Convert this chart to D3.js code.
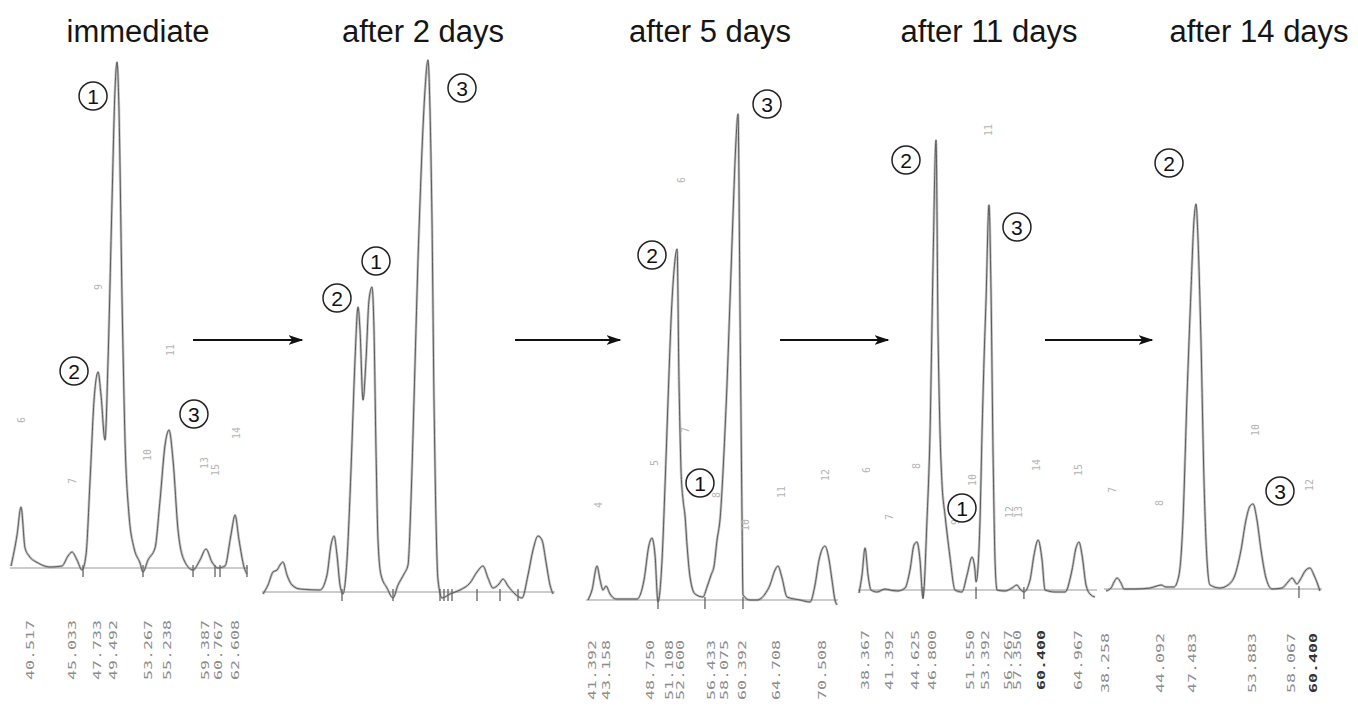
<!DOCTYPE html>
<html>
<head>
<meta charset="utf-8">
<script src="https://cdn.jsdelivr.net/npm/d3@7"></script>
<style>
  html, body { margin: 0; padding: 0; background: #fff; }
  svg { display: block; }
</style>
</head>
<body>
<svg id="chart" width="1358" height="707"></svg>
<script>
// ---------------- DATA ----------------
const panelTitles = ["immediate", "after 2 days", "after 5 days", "after 11 days", "after 14 days"];

// chromatogram traces: [retention time (min), detector signal (relative units)]
const trace1 = [[38.45,0.4],[39.10,6.6],[39.53,12.2],[39.96,4.0],[40.40,2.4],[41.37,1.0],[42.66,0.2],[43.95,0.4],[44.60,2.4],[45.03,3.2],[45.57,1.6],[46.11,-0.4],[46.54,2.6],[46.98,17.6],[47.41,33.6],[47.84,39.2],[48.16,34.6],[48.59,25.6],[48.92,41.6],[49.35,73.6],[49.67,95.6],[49.89,101.2],[50.10,91.6],[50.43,53.6],[50.75,25.6],[51.18,10.6],[51.72,4.0],[52.37,1.0],[52.69,-0.8],[53.23,1.6],[53.99,4.0],[54.53,13.6],[55.07,24.6],[55.50,27.6],[55.93,21.6],[56.47,7.6],[57.11,1.6],[58.09,-0.4],[58.84,1.6],[59.49,3.8],[60.13,1.2],[60.78,0],[61.54,0.4],[62.18,6.6],[62.62,10.6],[63.05,5.6],[63.59,0.2],[63.91,-1.2]];
const trace2 = [[37.1,-0.4],[37.6,1.4],[38.1,4.0],[38.5,4.4],[38.8,5.4],[39.1,6.0],[39.5,3.4],[40.0,1.4],[40.8,0.6],[42.8,0.4],[43.5,3.4],[43.9,9.4],[44.2,11.2],[44.5,7.4],[44.8,1.4],[45.1,-0.4],[45.5,6.4],[45.9,24.4],[46.3,46.4],[46.6,57.0],[46.8,52.4],[47.1,38.4],[47.4,46.4],[47.7,58.4],[48.0,61.0],[48.2,52.4],[48.4,28.4],[48.6,10.4],[48.9,3.4],[49.5,0.8],[50.1,-1.2],[50.6,1.4],[51.2,3.6],[51.6,5.4],[51.9,18.4],[52.2,38.4],[52.6,66.4],[53.0,88.4],[53.3,100.4],[53.6,106.4],[53.8,96.4],[54.0,74.4],[54.2,38.4],[54.4,14.4],[54.6,2.4],[55.0,-1.2],[55.8,-0.4],[56.8,0.4],[57.8,1.8],[58.5,4.0],[59.1,5.2],[59.6,2.8],[60.1,0.8],[60.7,1.6],[61.1,2.6],[61.6,1.2],[62.3,-0.4],[63.0,-1.2],[63.6,3.4],[64.1,8.4],[64.6,11.2],[65.0,10.4],[65.4,6.0],[65.8,1.4],[66.1,-0.4]];
const trace3 = [[40.91,0],[41.41,2.0],[42.05,6.8],[42.43,4.0],[42.80,2.0],[43.18,2.8],[43.69,1.2],[44.45,0.2],[47.11,0.2],[47.99,4.0],[48.62,11.0],[49.00,12.4],[49.38,9.0],[49.76,-0.4],[50.27,8.0],[50.65,23.0],[51.03,40.0],[51.41,56.0],[51.79,66.0],[52.17,70.2],[52.42,43.2],[52.67,26.0],[52.93,20.0],[53.18,16.8],[53.43,11.0],[53.81,4.6],[54.44,1.2],[55.45,0.6],[55.96,2.6],[56.47,5.0],[56.85,6.8],[57.23,12.0],[57.61,16.2],[58.12,30.0],[58.49,43.2],[58.87,60.0],[59.25,77.0],[59.63,92.0],[59.88,97.2],[60.14,56.8],[60.39,16.2],[60.51,1.0],[61.40,0],[62.29,0],[63.30,1.2],[63.93,3.0],[64.56,6.0],[64.94,6.8],[65.45,4.4],[66.08,0.6],[67.73,0],[68.99,-0.4],[69.62,3.0],[70.13,8.0],[70.89,10.8],[71.40,8.0],[71.77,4.0],[72.15,0],[72.41,-1.0]];
const trace4 = [[37.64,-0.6],[38.01,3.0],[38.39,8.4],[38.76,3.0],[39.13,0],[39.88,-0.4],[40.88,0.2],[41.50,0],[42.50,-0.2],[43.38,0.4],[44.00,4.0],[44.50,9.0],[44.87,9.6],[45.25,6.0],[45.62,-1.6],[46.12,14.0],[46.50,31.4],[46.87,64.6],[47.25,90.0],[47.50,51.4],[47.74,32.0],[47.99,21.4],[48.37,15.0],[48.62,11.4],[48.99,6.6],[49.62,0],[50.49,-0.4],[51.12,3.0],[51.74,6.6],[52.11,4.0],[52.24,1.6],[52.49,4.6],[52.74,14.0],[52.99,31.4],[53.24,46.0],[53.49,58.0],[53.86,77.0],[54.11,60.0],[54.36,28.0],[54.61,6.0],[54.86,0],[55.86,-0.2],[56.73,0.4],[57.35,1.0],[57.73,0.2],[58.22,-0.4],[58.98,2.0],[59.48,7.0],[59.98,10.0],[60.48,6.0],[60.85,0],[62.10,-0.4],[63.35,-0.4],[64.22,4.0],[64.72,8.4],[65.10,9.6],[65.47,7.0],[65.97,1.0],[66.46,-0.8],[67.09,-1.4]];
const trace5 = [[38.35,-0.4],[38.88,0.2],[39.20,1.4],[39.52,2.2],[39.94,1.2],[40.26,0],[41.43,0],[43.03,0.2],[43.77,0.6],[44.20,0.8],[44.73,0.4],[45.58,0.4],[46.11,2.8],[46.54,13.8],[46.96,38.4],[47.39,59.8],[47.71,73.8],[47.92,77.0],[48.14,69.8],[48.45,49.8],[48.77,21.8],[49.09,5.8],[49.41,0.8],[50.48,0.2],[51.33,0.8],[52.07,2.8],[52.71,7.8],[53.24,13.8],[53.67,16.6],[53.99,17.0],[54.41,13.8],[54.84,7.8],[55.37,2.2],[56.01,0],[57.07,0.2],[57.71,1.4],[58.14,2.2],[58.67,1.0],[58.99,1.8],[59.62,3.8],[60.05,4.2],[60.47,2.8],[60.90,0.8],[61.11,-0.4]];

// integration (valley) marks, retention time
const ticks1 = [46.22, 52.69, 58.09, 60.46, 61.00, 63.91];
const ticks2 = [45.0, 50.1, 54.8, 55.2, 55.6, 56.0, 58.5, 60.8, 62.6];
const ticks3 = [49.76, 55.70, 60.51];
const ticks4 = [45.62, 52.24, 58.22];
const ticks5 = [58.88];

// printed retention-time labels
const rt1 = ["40.517","45.033","47.733","49.492","53.267","55.238","59.387","60.767","62.608"];
const rt2 = [];
const rt3 = ["41.392","43.158","48.750","51.108","52.600","56.433","58.075","60.392","64.708","70.508"];
const rt4 = ["38.367","41.392","44.625","46.800","51.550","53.392","56.267","57.350","60.400","64.967"];
const rt5 = ["38.258","44.092","47.483","53.883","58.067","60.400"];
const rtBold = ["60.400"];

// faint printed peak numbers: [label, time, signal]
const pk1 = [["6",39.53,29.6],["7",45.03,17.4],["9",47.84,56.2],["11",55.61,43.6],["10",53.23,22.6],["13",59.38,21],["15",60.46,19.6],["14",62.83,27]];
const pk2 = [];
const pk3 = [["4",42.17,19],["5",49.26,27.4],["6",52.67,84],["7",53.30,34],["8",57.10,21],["10",60.89,15],["11",65.32,21.6],["12",71.01,25]];
const pk4 = [["6",38.51,24],["7",41.38,14.6],["8",44.75,24.8],["9",49.62,13.6],["10",51.86,22],["11",53.86,92],["12",56.48,15.6],["13",57.48,15.6],["14",59.85,25],["15",64.97,24]];
const pk5 = [["7",38.99,19.8],["8",43.99,17.2],["10",54.20,31.8],["12",60.05,20.8]];

// circled compound labels: [number, time, signal]
const cmp1 = [["1",47.30,94.4],["2",45.25,39.4],["3",58.19,30.8]];
const cmp2 = [["2",44.5,58.8],["1",48.4,66.2],["3",57.0,100.8]];
const cmp3 = [["2",49.0,69],["1",55.07,23.4],["3",63.55,99.2]];
const cmp4 = [["2",43.50,86],["1",50.49,16.4],["3",57.35,72.6]];
const cmp5 = [["2",45.05,85.2],["3",56.86,19.6]];

// time window of each recorder strip (min)
const timeWindows = [[38.34,64.02],[37.0,66.3],[40.65,72.53],[37.51,67.34],[38.13,61.33]];

// ---------------- LAYOUT ----------------
const layout = [
  {left:10,   right:248,  base:568, titleX:138,  rtBottom:680},
  {left:262,  right:555,  base:592, titleX:423,  rtBottom:690},
  {left:586,  right:838,  base:600, titleX:710,  rtBottom:700},
  {left:858,  right:1097, base:590, titleX:989,  rtBottom:690},
  {left:1104, right:1322, base:589, titleX:1259, rtBottom:693}
];
const arrowsX = [[193,302],[515,620],[780,888],[1045,1152]];
const arrowY = 340;

const traces = [trace1, trace2, trace3, trace4, trace5];
const ticks = [ticks1, ticks2, ticks3, ticks4, ticks5];
const rts = [rt1, rt2, rt3, rt4, rt5];
const pks = [pk1, pk2, pk3, pk4, pk5];
const cmps = [cmp1, cmp2, cmp3, cmp4, cmp5];

const svg = d3.select("#chart");

// arrow marker
svg.append("defs").append("marker")
  .attr("id","ah").attr("viewBox","0 0 10 10").attr("refX",9).attr("refY",5)
  .attr("markerWidth",15).attr("markerHeight",11).attr("markerUnits","userSpaceOnUse")
  .attr("orient","auto").attr("preserveAspectRatio","none")
  .append("path").attr("d","M0,0.5 L10,5 L0,9.5 L2.5,5 Z").attr("fill","#111");

layout.forEach((L, i) => {
  const x = d3.scaleLinear().domain(timeWindows[i]).range([L.left, L.right]);
  const y = d3.scaleLinear().domain([0, 100]).range([L.base, L.base - 500]);
  const g = svg.append("g");

  // title
  svg.append("text").attr("x", L.titleX).attr("y", 42)
    .attr("text-anchor","middle")
    .attr("font-family","'Liberation Sans', Arial, sans-serif")
    .attr("font-size", 31).attr("fill","#151515")
    .text(panelTitles[i]);

  // baseline
  g.append("line")
    .attr("x1", x(timeWindows[i][0])).attr("x2", x(timeWindows[i][1]))
    .attr("y1", y(0)).attr("y2", y(0))
    .attr("stroke","#9a9a9a").attr("stroke-width",1.2);

  // valley ticks
  g.selectAll("line.tk").data(ticks[i]).join("line").attr("class","tk")
    .attr("x1", d => x(d)).attr("x2", d => x(d))
    .attr("y1", y(0.6)).attr("y2", y(-1.8))
    .attr("stroke","#555").attr("stroke-width",1.2);

  // trace
  const line = d3.line().x(d => x(d[0])).y(d => y(d[1])).curve(d3.curveMonotoneX);
  g.append("path").datum(traces[i]).attr("d", line)
    .attr("fill","none").attr("stroke","#8a8a8a").attr("stroke-width",2.6)
    .attr("stroke-linejoin","round").attr("opacity",0.5);
  g.append("path").datum(traces[i]).attr("d", line)
    .attr("fill","none").attr("stroke","#5a5a5a").attr("stroke-width",1.0)
    .attr("stroke-linejoin","round");

  // faint peak numbers
  g.selectAll("text.pk").data(pks[i]).join("text").attr("class","pk")
    .attr("transform", d => `translate(${x(d[1])},${y(d[2])}) rotate(-90)`)
    .attr("text-anchor","middle").attr("dy","0.35em")
    .attr("font-family","'DejaVu Sans Mono', monospace").attr("font-size",10)
    .attr("fill","#b4b4b4")
    .text(d => d[0]);

  // retention time labels
  g.selectAll("text.rt").data(rts[i]).join("text").attr("class","rt")
    .attr("transform", d => `translate(${x(+d)},${L.rtBottom}) rotate(-90)`)
    .attr("text-anchor","start").attr("dy","0.36em")
    .attr("font-family","'DejaVu Sans Mono', monospace").attr("font-size",11)
    .attr("textLength",60).attr("lengthAdjust","spacingAndGlyphs")
    .attr("fill", d => rtBold.includes(d) ? "#333" : "#8c8c8c")
    .attr("font-weight", d => rtBold.includes(d) ? "bold" : "normal")
    .text(d => d);

  // circled compound labels
  const c = g.selectAll("g.cmp").data(cmps[i]).join("g").attr("class","cmp")
    .attr("transform", d => `translate(${x(d[1])},${y(d[2])})`);
  c.append("circle").attr("r",14).attr("fill","none")
    .attr("stroke","#222").attr("stroke-width",1.5);
  c.append("text").attr("text-anchor","middle").attr("dy","0.36em")
    .attr("font-family","'Liberation Sans', Arial, sans-serif").attr("font-size",21)
    .attr("fill","#111").text(d => d[0]);
});

// arrows between strips
svg.selectAll("line.arrow").data(arrowsX).join("line").attr("class","arrow")
  .attr("x1", d => d[0]).attr("x2", d => d[1])
  .attr("y1", arrowY).attr("y2", arrowY)
  .attr("stroke","#111").attr("stroke-width",2.2)
  .attr("marker-end","url(#ah)");
</script>
</body>
</html>
